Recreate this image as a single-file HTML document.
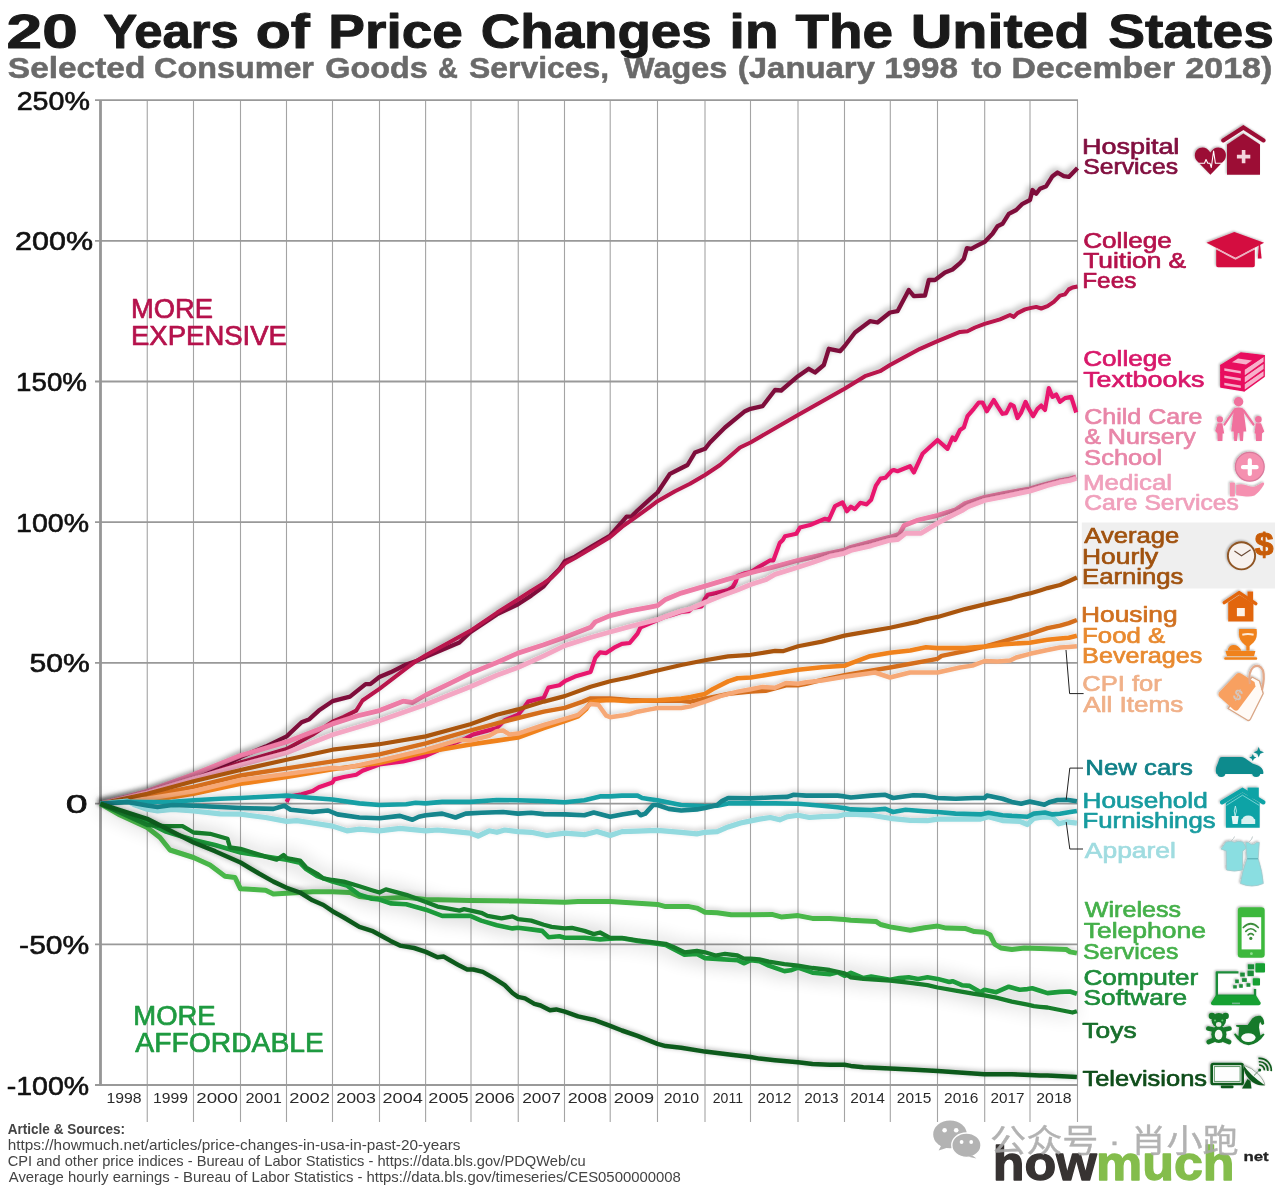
<!DOCTYPE html>
<html lang="en"><head><meta charset="utf-8"><title>20 Years of Price Changes in The United States</title>
<style>html,body{margin:0;padding:0;background:#fff;}body{width:1280px;height:1192px;overflow:hidden;}svg{display:block;}text{font-family:"Liberation Sans","Noto Sans CJK SC",sans-serif;}</style></head><body>
<svg width="1280" height="1192" viewBox="0 0 1280 1192">
<defs><filter id="sh" filterUnits="userSpaceOnUse" x="80" y="90" width="1010" height="1010"><feGaussianBlur in="SourceAlpha" stdDeviation="3.4"/><feOffset dx="-2" dy="-2.4"/><feComponentTransfer><feFuncA type="linear" slope="0.36"/></feComponentTransfer><feMerge><feMergeNode/><feMergeNode in="SourceGraphic"/></feMerge></filter><filter id="sh2" filterUnits="userSpaceOnUse" x="80" y="90" width="1010" height="1010"><feGaussianBlur in="SourceAlpha" stdDeviation="2.5"/><feOffset dx="-1.5" dy="-2"/><feComponentTransfer><feFuncA type="linear" slope="0.18"/></feComponentTransfer><feMerge><feMergeNode/><feMergeNode in="SourceGraphic"/></feMerge></filter><filter id="sh4" filterUnits="userSpaceOnUse" x="80" y="90" width="1010" height="1010"><feGaussianBlur in="SourceAlpha" stdDeviation="2.6"/><feOffset dx="-1" dy="-1.5"/><feComponentTransfer><feFuncA type="linear" slope="0.3"/></feComponentTransfer><feMerge><feMergeNode/><feMergeNode in="SourceGraphic"/></feMerge></filter><filter id="shm" filterUnits="userSpaceOnUse" x="80" y="90" width="1010" height="1010"><feGaussianBlur in="SourceAlpha" stdDeviation="2.4"/><feOffset dx="-1" dy="-2"/><feComponentTransfer><feFuncA type="linear" slope="0.3"/></feComponentTransfer><feMerge><feMergeNode/><feMergeNode in="SourceGraphic"/></feMerge></filter><filter id="sh3" filterUnits="userSpaceOnUse" x="80" y="90" width="1010" height="1010"><feGaussianBlur in="SourceAlpha" stdDeviation="10"/><feOffset dx="-1" dy="0"/><feComponentTransfer><feFuncA type="linear" slope="0.32"/></feComponentTransfer><feMerge><feMergeNode/><feMergeNode in="SourceGraphic"/></feMerge></filter><filter id="shi" x="-20%" y="-20%" width="140%" height="140%"><feGaussianBlur in="SourceAlpha" stdDeviation="1.2"/><feOffset dx="-0.8" dy="-1"/><feComponentTransfer><feFuncA type="linear" slope="0.3"/></feComponentTransfer><feMerge><feMergeNode/><feMergeNode in="SourceGraphic"/></feMerge></filter></defs>
<rect width="1280" height="1192" fill="#fff"/>
<text font-size="49" font-weight="bold" fill="#1a1a1a" stroke="#1a1a1a" stroke-width="1.0" stroke-linejoin="round"><tspan x="6.64" y="48.2" textLength="71.14" lengthAdjust="spacingAndGlyphs">20</tspan> <tspan x="103.21" y="48.2" textLength="135.67" lengthAdjust="spacingAndGlyphs">Years</tspan> <tspan x="255.66" y="48.2" textLength="54.13" lengthAdjust="spacingAndGlyphs">of</tspan> <tspan x="328.38" y="48.2" textLength="134.47" lengthAdjust="spacingAndGlyphs">Price</tspan> <tspan x="480.77" y="48.2" textLength="230.89" lengthAdjust="spacingAndGlyphs">Changes</tspan> <tspan x="729.64" y="48.2" textLength="48.84" lengthAdjust="spacingAndGlyphs">in</tspan> <tspan x="795.63" y="48.2" textLength="97.50" lengthAdjust="spacingAndGlyphs">The</tspan> <tspan x="910.73" y="48.2" textLength="179.06" lengthAdjust="spacingAndGlyphs">United</tspan> <tspan x="1108.25" y="48.2" textLength="165.59" lengthAdjust="spacingAndGlyphs">States</tspan></text>
<text font-size="28.6" font-weight="bold" fill="#6a6a6a" stroke="#6a6a6a" stroke-width="0.5" stroke-linejoin="round"><tspan x="7.83" y="78" textLength="137.57" lengthAdjust="spacingAndGlyphs">Selected</tspan> <tspan x="154.12" y="78" textLength="159.84" lengthAdjust="spacingAndGlyphs">Consumer</tspan> <tspan x="325.37" y="78" textLength="102.38" lengthAdjust="spacingAndGlyphs">Goods</tspan> <tspan x="438.04" y="78" textLength="19.84" lengthAdjust="spacingAndGlyphs">&amp;</tspan> <tspan x="469.14" y="78" textLength="139.91" lengthAdjust="spacingAndGlyphs">Services,</tspan> <tspan x="624.00" y="78" textLength="103.26" lengthAdjust="spacingAndGlyphs">Wages</tspan> <tspan x="737.85" y="78" textLength="137.13" lengthAdjust="spacingAndGlyphs">(January</tspan> <tspan x="884.18" y="78" textLength="73.79" lengthAdjust="spacingAndGlyphs">1998</tspan> <tspan x="971.50" y="78" textLength="30.63" lengthAdjust="spacingAndGlyphs">to</tspan> <tspan x="1011.64" y="78" textLength="163.45" lengthAdjust="spacingAndGlyphs">December</tspan> <tspan x="1185.31" y="78" textLength="87.05" lengthAdjust="spacingAndGlyphs">2018)</tspan></text>
<g stroke="#a4a4a4" stroke-width="1.1">
<line x1="147.25" y1="100" x2="147.25" y2="1122"/>
<line x1="193.50" y1="100" x2="193.50" y2="1122"/>
<line x1="240.50" y1="100" x2="240.50" y2="1122"/>
<line x1="286.50" y1="100" x2="286.50" y2="1122"/>
<line x1="332.50" y1="100" x2="332.50" y2="1122"/>
<line x1="379.50" y1="100" x2="379.50" y2="1122"/>
<line x1="425.60" y1="100" x2="425.60" y2="1122"/>
<line x1="471.00" y1="100" x2="471.00" y2="1122"/>
<line x1="518.25" y1="100" x2="518.25" y2="1122"/>
<line x1="564.50" y1="100" x2="564.50" y2="1122"/>
<line x1="610.20" y1="100" x2="610.20" y2="1122"/>
<line x1="657.50" y1="100" x2="657.50" y2="1122"/>
<line x1="705.00" y1="100" x2="705.00" y2="1122"/>
<line x1="750.50" y1="100" x2="750.50" y2="1122"/>
<line x1="798.00" y1="100" x2="798.00" y2="1122"/>
<line x1="844.50" y1="100" x2="844.50" y2="1122"/>
<line x1="890.30" y1="100" x2="890.30" y2="1122"/>
<line x1="937.50" y1="100" x2="937.50" y2="1122"/>
<line x1="984.70" y1="100" x2="984.70" y2="1122"/>
<line x1="1030.00" y1="100" x2="1030.00" y2="1122"/>
<line x1="1077.50" y1="100" x2="1077.50" y2="1122"/>
</g>
<g stroke="#999" stroke-width="1.8">
<line x1="95" y1="100.10" x2="1078" y2="100.10"/>
<line x1="95" y1="240.80" x2="1078" y2="240.80"/>
<line x1="95" y1="381.50" x2="1078" y2="381.50"/>
<line x1="95" y1="522.20" x2="1078" y2="522.20"/>
<line x1="95" y1="662.90" x2="1078" y2="662.90"/>
<line x1="95" y1="803.60" x2="1078" y2="803.60"/>
<line x1="95" y1="944.30" x2="1078" y2="944.30"/>
<line x1="95" y1="1085.00" x2="1078" y2="1085.00"/>
</g>
<line x1="100.5" y1="100" x2="100.5" y2="1086" stroke="#969696" stroke-width="2.8"/>
<text font-size="25.7" font-weight="normal" fill="#111" stroke="#111" stroke-width="0.6" stroke-linejoin="round"><tspan x="16.68" y="109.6" textLength="73.30" lengthAdjust="spacingAndGlyphs">250%</tspan></text>
<text font-size="25.7" font-weight="normal" fill="#111" stroke="#111" stroke-width="0.6" stroke-linejoin="round"><tspan x="15.11" y="250.3" textLength="77.92" lengthAdjust="spacingAndGlyphs">200%</tspan></text>
<text font-size="25.7" font-weight="normal" fill="#111" stroke="#111" stroke-width="0.6" stroke-linejoin="round"><tspan x="16.14" y="391.0" textLength="70.81" lengthAdjust="spacingAndGlyphs">150%</tspan></text>
<text font-size="25.7" font-weight="normal" fill="#111" stroke="#111" stroke-width="0.6" stroke-linejoin="round"><tspan x="16.08" y="531.7" textLength="72.90" lengthAdjust="spacingAndGlyphs">100%</tspan></text>
<text font-size="25.7" font-weight="normal" fill="#111" stroke="#111" stroke-width="0.6" stroke-linejoin="round"><tspan x="29.63" y="672.4" textLength="60.24" lengthAdjust="spacingAndGlyphs">50%</tspan></text>
<text font-size="25.7" font-weight="normal" fill="#111" stroke="#111" stroke-width="0.6" stroke-linejoin="round"><tspan x="65.77" y="813.1" textLength="21.92" lengthAdjust="spacingAndGlyphs">0</tspan></text>
<text font-size="25.7" font-weight="normal" fill="#111" stroke="#111" stroke-width="0.6" stroke-linejoin="round"><tspan x="19.13" y="953.8" textLength="70.20" lengthAdjust="spacingAndGlyphs">-50%</tspan></text>
<text font-size="25.7" font-weight="normal" fill="#111" stroke="#111" stroke-width="0.6" stroke-linejoin="round"><tspan x="6.69" y="1094.5" textLength="82.41" lengthAdjust="spacingAndGlyphs">-100%</tspan></text>
<text font-size="15" font-weight="normal" fill="#2a2a2a"><tspan x="106.48" y="1103.4" textLength="35.14" lengthAdjust="spacingAndGlyphs">1998</tspan></text>
<text font-size="15" font-weight="normal" fill="#2a2a2a"><tspan x="153.07" y="1103.4" textLength="34.94" lengthAdjust="spacingAndGlyphs">1999</tspan></text>
<text font-size="15" font-weight="normal" fill="#2a2a2a"><tspan x="196.25" y="1103.4" textLength="41.72" lengthAdjust="spacingAndGlyphs">2000</tspan></text>
<text font-size="15" font-weight="normal" fill="#2a2a2a"><tspan x="245.41" y="1103.4" textLength="36.50" lengthAdjust="spacingAndGlyphs">2001</tspan></text>
<text font-size="15" font-weight="normal" fill="#2a2a2a"><tspan x="289.28" y="1103.4" textLength="40.68" lengthAdjust="spacingAndGlyphs">2002</tspan></text>
<text font-size="15" font-weight="normal" fill="#2a2a2a"><tspan x="336.31" y="1103.4" textLength="39.63" lengthAdjust="spacingAndGlyphs">2003</tspan></text>
<text font-size="15" font-weight="normal" fill="#2a2a2a"><tspan x="382.54" y="1103.4" textLength="40.26" lengthAdjust="spacingAndGlyphs">2004</tspan></text>
<text font-size="15" font-weight="normal" fill="#2a2a2a"><tspan x="428.35" y="1103.4" textLength="40.15" lengthAdjust="spacingAndGlyphs">2005</tspan></text>
<text font-size="15" font-weight="normal" fill="#2a2a2a"><tspan x="474.56" y="1103.4" textLength="40.37" lengthAdjust="spacingAndGlyphs">2006</tspan></text>
<text font-size="15" font-weight="normal" fill="#2a2a2a"><tspan x="522.22" y="1103.4" textLength="38.59" lengthAdjust="spacingAndGlyphs">2007</tspan></text>
<text font-size="15" font-weight="normal" fill="#2a2a2a"><tspan x="567.66" y="1103.4" textLength="39.63" lengthAdjust="spacingAndGlyphs">2008</tspan></text>
<text font-size="15" font-weight="normal" fill="#2a2a2a"><tspan x="613.79" y="1103.4" textLength="40.36" lengthAdjust="spacingAndGlyphs">2009</tspan></text>
<text font-size="15" font-weight="normal" fill="#2a2a2a"><tspan x="663.69" y="1103.4" textLength="35.46" lengthAdjust="spacingAndGlyphs">2010</tspan></text>
<text font-size="15" font-weight="normal" fill="#2a2a2a"><tspan x="712.81" y="1103.4" textLength="30.18" lengthAdjust="spacingAndGlyphs">2011</tspan></text>
<text font-size="15" font-weight="normal" fill="#2a2a2a"><tspan x="757.48" y="1103.4" textLength="33.90" lengthAdjust="spacingAndGlyphs">2012</tspan></text>
<text font-size="15" font-weight="normal" fill="#2a2a2a"><tspan x="804.22" y="1103.4" textLength="34.42" lengthAdjust="spacingAndGlyphs">2013</tspan></text>
<text font-size="15" font-weight="normal" fill="#2a2a2a"><tspan x="850.37" y="1103.4" textLength="34.42" lengthAdjust="spacingAndGlyphs">2014</tspan></text>
<text font-size="15" font-weight="normal" fill="#2a2a2a"><tspan x="896.87" y="1103.4" textLength="34.42" lengthAdjust="spacingAndGlyphs">2015</tspan></text>
<text font-size="15" font-weight="normal" fill="#2a2a2a"><tspan x="944.07" y="1103.4" textLength="34.42" lengthAdjust="spacingAndGlyphs">2016</tspan></text>
<text font-size="15" font-weight="normal" fill="#2a2a2a"><tspan x="990.58" y="1103.4" textLength="33.90" lengthAdjust="spacingAndGlyphs">2017</tspan></text>
<text font-size="15" font-weight="normal" fill="#2a2a2a"><tspan x="1036.29" y="1103.4" textLength="35.25" lengthAdjust="spacingAndGlyphs">2018</tspan></text>
<text font-size="13.9" font-weight="bold" fill="#444"><tspan x="7.78" y="1133.7" textLength="117.38" lengthAdjust="spacingAndGlyphs">Article &amp; Sources:</tspan></text>
<text font-size="13.9" font-weight="normal" fill="#444"><tspan x="7.65" y="1149.7" textLength="452.86" lengthAdjust="spacingAndGlyphs">https://howmuch.net/articles/price-changes-in-usa-in-past-20-years</tspan></text>
<text font-size="13.9" font-weight="normal" fill="#444"><tspan x="7.70" y="1165.8" textLength="577.98" lengthAdjust="spacingAndGlyphs">CPI and other price indices - Bureau of Labor Statistics - https://data.bls.gov/PDQWeb/cu</tspan></text>
<text font-size="13.9" font-weight="normal" fill="#444"><tspan x="8.75" y="1182" textLength="672.09" lengthAdjust="spacingAndGlyphs">Average hourly earnings - Bureau of Labor Statistics - https://data.bls.gov/timeseries/CES0500000008</tspan></text>
<g fill="none" stroke-linejoin="round" stroke-linecap="butt" filter="url(#sh)">
<path d="M100.5,803.8 L147.2,792.5 L193.5,777.0 L217.5,768.8 L240.5,757.0 L250.0,753.1 L265.6,746.6 L286.6,736.4 L301.6,722.3 L309.4,719.2 L318.8,710.6 L332.5,701.2 L350.0,696.6 L365.6,684.1 L370.3,684.1 L379.4,677.0 L390.6,672.3 L406.2,664.5 L415.6,661.4 L425.8,656.7 L450.0,646.5 L459.4,642.5 L470.3,632.3 L496.9,614.4 L518.0,604.2 L531.2,595.6 L543.8,586.2 L551.6,576.9 L559.4,569.1 L564.8,561.2 L575.0,556.6 L590.6,547.2 L610.2,535.5 L621.9,522.2 L626.6,516.7 L631.2,516.7 L637.5,510.5 L650.0,499.2 L657.5,492.5 L670.0,473.8 L682.5,467.5 L687.5,465.0 L695.0,452.5 L705.0,448.8 L710.0,442.5 L725.0,427.5 L745.0,411.2 L750.5,408.8 L762.5,406.2 L775.0,390.0 L781.2,390.5 L798.0,376.2 L808.8,368.8 L815.0,372.5 L823.8,365.0 L828.8,348.8 L840.0,351.2 L844.5,346.2 L855.0,332.5 L870.0,321.2 L877.5,322.5 L890.0,312.5 L897.5,311.2 L908.8,290.0 L913.8,296.2 L925.0,295.5 L928.8,280.0 L935.0,280.0 L945.0,272.5 L952.5,269.5 L960.0,263.1 L963.8,258.8 L966.9,248.1 L971.2,248.8 L976.2,246.2 L984.6,241.9 L992.5,233.8 L997.5,226.2 L1002.5,223.8 L1008.8,213.8 L1016.2,210.0 L1022.5,203.8 L1030.0,200.0 L1032.5,190.0 L1036.2,193.8 L1040.0,188.8 L1046.2,186.2 L1052.5,176.2 L1057.5,172.5 L1063.8,176.2 L1068.8,176.9 L1077.5,168.1" stroke="#7E0F3B" stroke-width="4.3"/>
<path d="M100.5,803.8 L147.2,793.0 L193.5,779.2 L240.5,762.5 L250.0,759.7 L286.6,748.9 L312.5,734.8 L332.5,721.6 L343.8,716.9 L356.2,710.6 L362.5,700.5 L379.4,688.8 L406.2,668.4 L415.6,661.4 L425.8,655.2 L450.0,641.9 L470.3,630.8 L496.9,612.8 L518.0,599.5 L531.2,590.9 L543.8,583.1 L551.6,577.7 L559.4,569.8 L564.8,563.6 L575.0,558.1 L590.6,548.8 L610.2,537.0 L621.9,526.9 L637.5,515.9 L650.0,506.8 L657.5,501.2 L675.0,491.2 L690.0,483.8 L705.0,475.0 L720.0,465.0 L740.0,447.5 L750.5,442.5 L798.0,415.0 L844.5,388.8 L865.0,376.2 L880.0,371.2 L890.0,365.0 L920.0,348.8 L937.5,341.2 L960.0,331.9 L967.5,331.2 L975.0,327.5 L984.6,323.8 L1000.0,319.4 L1010.0,315.0 L1013.8,316.9 L1017.5,313.1 L1025.0,309.4 L1030.0,308.1 L1036.2,306.9 L1041.2,308.5 L1047.5,306.2 L1053.8,301.9 L1060.0,295.6 L1065.0,294.4 L1068.8,289.4 L1072.5,287.5 L1077.5,286.5" stroke="#B8124C" stroke-width="4.0"/>
</g>
<g fill="none" stroke-linejoin="round" stroke-linecap="butt" filter="url(#sh4)">
<path d="M286.6,802.0 L289.1,796.6 L301.6,794.2 L312.5,791.1 L318.8,787.2 L332.5,782.5 L334.4,779.4 L343.8,777.0 L356.2,774.7 L362.5,770.8 L379.4,764.5 L403.1,761.4 L425.8,755.9 L450.0,745.2 L465.6,738.3 L473.4,734.4 L496.9,728.1 L504.7,720.3 L518.0,714.8 L525.0,706.2 L528.1,701.6 L543.8,697.7 L548.4,687.5 L559.4,685.2 L564.8,681.2 L575.0,676.6 L590.6,671.9 L595.3,657.8 L600.0,652.3 L606.2,653.1 L614.1,647.7 L621.9,643.8 L629.7,643.0 L637.5,633.6 L640.6,627.3 L650.0,623.3 L665.6,616.6 L671.9,615.0 L681.2,611.9 L689.1,611.1 L692.2,608.0 L701.6,606.4 L705.0,598.6 L707.8,594.7 L715.6,593.1 L728.1,590.0 L732.8,586.9 L735.9,581.4 L737.5,575.9 L743.8,573.6 L750.8,572.0 L759.4,566.6 L770.3,560.3 L773.4,560.3 L779.7,543.1 L782.8,540.0 L785.0,536.2 L796.2,533.8 L800.0,527.5 L810.0,525.0 L825.0,518.8 L828.8,520.0 L835.0,506.2 L842.5,502.5 L847.0,511.2 L850.9,506.7 L854.8,509.1 L860.3,502.8 L866.6,504.4 L871.2,499.7 L875.9,485.6 L880.6,478.6 L885.3,477.8 L891.6,470.8 L893.8,470.0 L897.5,471.2 L910.0,466.2 L913.8,472.5 L922.5,453.8 L937.5,440.0 L947.5,448.8 L952.5,437.5 L955.0,440.0 L960.0,430.0 L963.8,427.5 L967.5,416.2 L973.8,408.8 L978.8,402.5 L982.5,402.5 L986.9,411.2 L993.8,400.0 L997.5,406.2 L1002.5,413.8 L1006.2,413.1 L1010.6,404.4 L1013.8,406.2 L1017.5,418.1 L1021.2,412.5 L1025.6,401.9 L1028.8,408.8 L1033.1,416.2 L1037.5,408.8 L1041.2,405.6 L1045.0,410.0 L1048.8,388.1 L1052.5,396.9 L1056.2,394.4 L1060.0,401.9 L1065.0,398.1 L1071.2,396.9 L1076.2,412.5" stroke="#E8176E" stroke-width="4.2"/>
</g>
<g fill="none" stroke-linejoin="round" stroke-linecap="butt" filter="url(#sh2)">
<path d="M100.5,803.8 L147.2,791.2 L193.5,774.5 L240.5,755.5 L250.0,752.7 L286.6,741.9 L332.5,723.9 L359.4,715.3 L379.4,710.6 L403.1,701.2 L412.5,702.5 L425.8,695.0 L450.0,683.3 L470.3,673.4 L496.9,662.5 L518.0,653.1 L543.8,644.8 L564.8,637.2 L590.6,627.3 L595.3,621.9 L610.2,615.6 L629.7,610.9 L650.0,607.1 L657.5,605.6 L665.6,599.4 L681.2,593.1 L705.0,586.1 L728.1,579.1 L737.5,576.7 L750.8,572.8 L775.0,566.6 L798.1,560.3 L821.9,554.8 L844.5,550.2 L850.9,547.3 L871.2,541.9 L890.0,537.2 L899.4,534.1 L904.1,525.5 L918.1,520.0 L937.7,515.3 L955.6,509.8 L965.0,503.6 L984.5,497.3 L1004.1,493.4 L1029.8,488.8 L1040.0,485.9 L1047.5,483.8 L1060.0,480.6 L1070.0,478.8 L1076.2,476.9" stroke="#EE7CA6" stroke-width="4.8"/>
</g>
<g fill="none" stroke-linejoin="round" stroke-linecap="butt" filter="url(#shm)">
<path d="M100.5,803.8 L147.2,793.0 L193.5,779.0 L240.5,765.0 L250.0,762.5 L286.6,752.8 L332.5,734.8 L379.4,720.8 L425.8,704.4 L450.0,694.8 L470.3,686.7 L496.9,675.3 L518.0,667.5 L543.8,655.9 L564.8,645.6 L590.6,637.5 L610.2,632.0 L629.7,626.6 L650.0,621.5 L657.5,619.7 L665.6,616.6 L681.2,611.1 L690.6,608.8 L705.0,602.5 L720.3,596.2 L737.5,590.0 L750.8,584.5 L765.6,579.8 L775.0,574.4 L798.1,567.3 L814.1,561.9 L829.7,556.4 L844.5,553.3 L850.9,550.5 L871.2,545.8 L890.0,540.3 L897.8,539.5 L905.6,533.3 L921.2,533.3 L927.5,529.4 L937.7,523.1 L949.4,516.9 L961.9,510.6 L968.1,506.7 L984.5,500.5 L1004.1,496.6 L1029.8,491.1 L1040.0,487.9 L1047.5,485.5 L1060.0,482.2 L1070.0,480.4 L1076.2,478.5" stroke="#F4A6C3" stroke-width="4.8"/>
</g>
<g fill="none" stroke-linejoin="round" stroke-linecap="butt" filter="url(#sh2)">
<path d="M100.5,803.8 L147.2,796.2 L193.5,786.8 L240.5,775.5 L250.0,774.0 L286.6,768.4 L332.5,761.4 L379.4,754.4 L425.8,743.4 L450.0,736.4 L470.3,730.5 L496.9,723.4 L518.0,718.0 L543.8,711.7 L564.8,707.8 L582.8,701.6 L590.6,698.4 L610.2,698.4 L629.7,700.0 L650.0,700.7 L657.5,700.9 L681.2,700.9 L690.6,701.7 L705.0,698.6 L728.1,693.9 L750.8,691.6 L765.6,690.8 L775.0,688.4 L785.9,685.3 L798.1,685.3 L806.2,683.8 L821.9,679.8 L844.5,675.2 L850.0,674.2 L890.0,667.5 L937.5,658.8 L941.6,655.9 L965.0,651.2 L984.5,646.6 L1004.1,641.1 L1029.8,634.1 L1040.0,630.6 L1047.5,628.1 L1060.0,625.6 L1068.8,623.1 L1076.9,620.0" stroke="#D46E1F" stroke-width="4.4"/>
<path d="M100.5,803.8 L147.2,800.0 L165.0,798.2 L193.5,793.8 L240.5,783.8 L250.0,782.4 L286.6,777.0 L332.5,769.2 L379.4,763.0 L425.8,752.0 L450.0,748.0 L470.3,744.5 L496.9,740.6 L518.0,737.5 L543.8,728.1 L564.8,721.1 L578.1,716.4 L585.9,709.4 L590.6,702.3 L598.4,700.8 L610.2,700.0 L629.7,701.2 L650.0,700.5 L657.5,700.2 L681.2,698.6 L690.6,697.0 L705.0,693.9 L712.5,689.2 L728.1,681.4 L737.5,678.3 L750.8,677.5 L775.0,673.6 L798.1,669.7 L821.9,667.3 L844.5,665.8 L850.0,663.7 L870.0,656.2 L871.2,655.9 L890.0,652.8 L910.3,650.5 L925.9,647.3 L937.7,648.1 L965.0,648.1 L984.5,646.6 L1004.1,644.2 L1029.8,642.7 L1040.0,641.0 L1047.5,639.8 L1060.0,638.5 L1068.8,637.8 L1076.9,635.8" stroke="#F0821F" stroke-width="4.6"/>
<path d="M100.5,803.8 L147.2,798.8 L193.5,791.2 L240.5,780.0 L250.0,778.7 L286.6,773.9 L332.5,767.7 L343.8,768.4 L379.4,760.6 L425.8,749.7 L450.0,742.6 L459.4,739.8 L470.3,740.6 L489.1,735.9 L496.9,731.2 L503.1,730.5 L509.4,734.4 L518.0,733.6 L543.8,725.0 L564.8,718.8 L578.1,714.8 L585.9,707.8 L590.6,703.9 L598.4,704.7 L606.2,715.6 L610.2,717.2 L621.9,715.6 L629.7,714.1 L637.5,711.7 L650.0,709.4 L657.5,708.0 L681.2,708.0 L690.6,706.4 L705.0,701.7 L720.3,696.2 L737.5,691.6 L750.8,689.2 L762.5,686.9 L775.0,687.7 L785.9,683.0 L798.1,683.8 L806.2,682.2 L821.9,680.6 L844.5,676.7 L850.0,676.0 L875.0,672.5 L890.0,677.5 L910.0,672.5 L937.5,672.5 L960.0,667.5 L972.5,665.6 L984.6,661.0 L997.5,661.5 L1010.0,660.6 L1016.2,657.5 L1030.0,653.8 L1047.5,650.0 L1060.0,647.5 L1068.8,646.9 L1076.9,646.2" stroke="#F6A876" stroke-width="4.5"/>
<path d="M100.5,803.8 L147.2,793.8 L193.5,781.2 L240.5,770.0 L250.0,767.9 L286.6,759.8 L332.5,749.7 L379.4,744.2 L425.8,736.4 L450.0,729.8 L470.3,724.2 L496.9,714.8 L518.0,709.4 L543.8,701.6 L564.8,696.1 L590.6,686.7 L610.2,681.2 L629.7,677.3 L650.0,672.3 L657.5,670.5 L681.2,665.0 L705.0,660.3 L728.1,656.4 L750.8,654.8 L775.0,650.9 L782.8,651.2 L798.1,646.2 L821.9,641.6 L844.5,635.6 L850.0,634.6 L857.2,633.4 L890.0,627.8 L918.1,621.6 L925.9,619.2 L937.7,616.9 L965.0,609.1 L984.5,604.4 L1011.9,598.1 L1019.7,595.8 L1029.8,593.4 L1040.0,590.4 L1047.5,588.1 L1060.0,585.0 L1068.8,581.2 L1076.9,577.5" stroke="#A9540F" stroke-width="4.2"/>
</g>
<g fill="none" stroke-linejoin="round" stroke-linecap="butt" filter="url(#sh2)">
<path d="M100.5,803.8 L127.5,801.2 L133.8,804.5 L147.2,809.2 L157.5,811.0 L172.5,809.5 L193.5,811.0 L220.0,813.8 L240.5,814.2 L250.0,815.5 L265.6,817.5 L286.6,821.4 L296.9,820.6 L312.5,823.0 L332.5,826.1 L346.9,830.8 L359.4,829.2 L379.4,830.8 L400.0,828.4 L425.8,830.8 L437.5,830.0 L450.0,831.2 L470.3,833.1 L478.1,836.2 L489.1,830.8 L496.9,832.3 L504.7,830.0 L518.0,831.6 L531.2,832.3 L546.9,835.5 L564.8,833.1 L584.4,834.7 L596.9,831.6 L610.2,835.5 L621.9,831.6 L637.5,831.2 L650.0,830.7 L657.5,830.3 L681.2,832.3 L696.9,833.9 L705.0,832.3 L717.2,831.6 L728.1,826.9 L740.6,823.0 L750.8,820.9 L759.4,819.1 L770.3,817.5 L779.7,819.8 L787.5,816.7 L798.1,815.2 L809.4,817.5 L821.9,816.7 L837.5,816.2 L844.5,814.4 L850.9,814.1 L871.2,815.2 L890.0,818.3 L910.3,820.3 L927.5,820.6 L937.7,819.1 L955.6,819.1 L980.6,819.1 L988.4,816.7 L1002.5,820.6 L1019.7,821.4 L1027.5,824.5 L1033.8,818.3 L1040.0,817.5 L1045.0,816.9 L1052.5,817.5 L1058.8,823.8 L1066.2,821.9 L1076.9,823.1" stroke="#93DADF" stroke-width="5.2"/>
<path d="M100.5,803.8 L127.5,801.8 L147.2,802.0 L172.5,801.8 L193.5,800.2 L220.0,798.8 L240.5,798.0 L250.0,797.5 L286.6,795.6 L312.5,798.0 L332.5,799.5 L359.4,803.4 L379.4,805.0 L406.2,804.2 L415.6,802.7 L425.8,803.4 L442.2,801.9 L450.0,801.9 L470.3,801.9 L496.9,800.0 L518.0,800.3 L543.8,801.1 L564.8,802.2 L584.4,800.3 L600.0,796.4 L610.2,796.4 L621.9,795.6 L637.5,795.6 L642.2,798.0 L650.0,799.2 L657.5,800.3 L681.2,805.0 L705.0,806.2 L717.2,805.8 L728.1,803.4 L750.8,803.4 L775.0,803.4 L798.1,803.8 L821.9,805.8 L837.5,807.3 L844.5,808.1 L850.9,809.4 L871.2,810.0 L885.3,808.9 L893.1,812.0 L905.6,809.7 L924.4,811.2 L937.7,812.0 L955.6,813.6 L980.6,814.4 L988.4,812.8 L1002.5,815.2 L1011.9,815.9 L1027.5,816.7 L1033.8,813.6 L1040.0,813.0 L1045.0,812.5 L1052.5,814.4 L1060.0,813.8 L1068.8,812.2 L1076.9,811.0" stroke="#18A0A5" stroke-width="4.6"/>
<path d="M100.5,803.8 L127.5,802.0 L147.2,805.5 L157.5,807.0 L172.5,805.0 L193.5,805.8 L240.5,808.0 L250.0,808.3 L273.4,808.9 L284.4,805.8 L290.6,809.7 L312.5,812.0 L328.1,810.5 L337.5,814.4 L359.4,817.5 L379.4,818.3 L400.0,815.9 L412.5,819.8 L418.8,816.7 L425.8,815.2 L442.2,813.6 L450.0,815.9 L455.5,817.5 L465.6,813.6 L481.2,812.8 L503.1,812.0 L518.0,813.6 L531.2,812.8 L543.8,814.1 L564.8,814.4 L584.4,815.2 L593.8,812.5 L610.2,816.7 L621.9,814.4 L637.5,812.0 L640.6,815.2 L645.3,813.6 L650.0,808.4 L653.1,805.0 L657.5,805.0 L668.8,808.9 L681.2,810.5 L696.9,809.4 L705.0,808.1 L717.2,805.0 L721.9,801.1 L728.1,798.0 L750.8,798.4 L775.0,797.2 L787.5,796.9 L793.8,794.8 L806.2,795.6 L821.9,795.6 L837.5,795.6 L844.5,796.4 L850.9,797.5 L871.2,795.6 L885.3,794.8 L893.1,798.0 L913.4,795.3 L924.4,795.6 L937.7,798.0 L955.6,798.8 L974.4,798.0 L984.5,798.0 L986.9,795.6 L1002.5,798.8 L1011.9,801.9 L1021.2,803.8 L1029.8,801.6 L1040.0,803.8 L1044.4,804.8 L1050.0,801.9 L1057.5,800.0 L1066.2,799.8 L1076.9,801.2" stroke="#13858C" stroke-width="4.6"/>
</g>
<g fill="none" stroke-linejoin="round" stroke-linecap="butt" filter="url(#sh2)">
<path d="M100.5,803.8 L120.0,815.0 L147.2,827.5 L160.0,837.5 L170.0,850.0 L193.5,857.5 L210.0,865.0 L225.0,876.2 L235.0,877.5 L240.5,888.8 L250.0,889.3 L265.6,890.2 L273.4,894.1 L286.6,893.3 L312.5,891.7 L332.5,891.7 L350.0,892.5 L359.4,896.4 L379.4,898.8 L406.2,897.2 L425.8,899.5 L450.0,900.1 L470.3,900.6 L518.0,901.1 L564.8,902.2 L578.1,901.6 L610.2,901.6 L650.0,903.9 L657.5,904.4 L665.6,906.6 L689.1,906.6 L696.9,908.1 L705.0,912.2 L717.2,912.8 L731.2,914.8 L750.8,914.8 L771.9,914.4 L781.2,916.9 L798.1,915.6 L812.5,918.4 L829.7,918.4 L844.5,919.5 L850.9,920.3 L875.9,921.4 L880.6,924.5 L890.0,926.9 L910.3,930.3 L924.4,927.7 L937.7,926.1 L946.2,928.1 L965.0,928.4 L974.4,931.6 L984.5,932.3 L990.0,934.7 L994.7,944.1 L1000.9,948.0 L1011.9,949.5 L1024.4,948.0 L1040.0,948.5 L1047.5,948.8 L1066.2,949.4 L1070.0,951.9 L1076.9,953.1" stroke="#49B749" stroke-width="5.0"/>
</g>
<g fill="none" stroke-linejoin="round" stroke-linecap="butt" filter="url(#sh3)">
<path d="M100.5,803.8 L147.2,822.5 L165.0,831.2 L193.5,840.0 L215.0,845.0 L240.5,852.5 L250.0,854.0 L286.6,859.7 L300.0,862.8 L306.2,869.1 L317.2,876.1 L332.5,881.6 L346.9,885.5 L359.4,894.8 L371.9,898.8 L379.4,899.5 L390.6,903.4 L406.2,904.2 L425.8,909.7 L442.2,915.9 L450.0,915.9 L470.3,915.9 L481.2,920.6 L496.9,925.3 L512.5,928.4 L518.0,927.8 L531.2,929.4 L542.2,930.9 L548.4,937.2 L559.4,936.2 L564.8,937.8 L584.4,937.8 L600.0,939.4 L610.2,938.6 L621.9,938.3 L637.5,940.9 L650.0,942.7 L665.6,945.0 L684.4,954.7 L696.9,953.9 L705.0,958.1 L720.3,959.1 L737.5,960.2 L743.8,963.3 L750.8,960.2 L759.4,961.2 L768.8,965.6 L784.4,971.1 L790.6,970.3 L798.1,967.5 L812.5,972.7 L829.7,974.2 L837.5,972.2 L844.5,975.8 L850.9,972.8 L863.4,978.1 L871.2,976.6 L890.0,979.7 L899.4,978.1 L908.8,977.3 L918.1,978.9 L927.5,977.3 L937.7,978.9 L949.4,982.0 L952.5,981.2 L961.9,985.2 L969.7,985.9 L980.6,992.2 L984.5,989.8 L996.2,992.2 L1008.8,986.7 L1019.7,989.8 L1027.5,989.1 L1032.2,988.3 L1040.0,990.8 L1047.5,993.1 L1060.0,991.9 L1070.0,991.5 L1076.9,993.8" stroke="#1F9A3A" stroke-width="4.6"/>
<path d="M100.5,803.8 L147.2,825.0 L165.0,826.2 L182.5,826.2 L193.5,832.5 L210.0,833.8 L227.5,838.8 L230.0,847.5 L240.5,848.8 L250.0,851.7 L265.6,856.6 L276.6,859.7 L283.6,855.0 L286.6,858.1 L300.0,860.5 L306.2,867.5 L317.2,873.8 L323.4,878.4 L332.5,880.0 L343.8,881.6 L359.4,886.2 L371.9,890.2 L379.4,892.5 L385.9,889.4 L406.2,894.8 L425.8,901.9 L437.5,906.6 L450.0,908.9 L459.4,910.6 L464.1,909.1 L481.2,912.8 L487.5,915.9 L501.6,918.4 L512.5,916.4 L518.0,919.1 L531.2,920.6 L543.8,924.7 L551.6,926.9 L564.8,928.4 L571.9,927.8 L584.4,930.9 L593.8,934.1 L600.0,932.5 L610.2,937.8 L621.9,937.8 L637.5,940.3 L650.0,941.8 L665.6,943.8 L673.4,946.9 L684.4,952.3 L696.9,950.8 L705.0,952.3 L715.6,955.5 L725.0,953.9 L737.5,955.5 L743.8,958.6 L750.8,958.6 L759.4,959.4 L768.8,961.7 L784.4,964.1 L798.1,965.6 L812.5,968.0 L829.7,970.0 L844.5,973.4 L850.9,977.3 L863.4,978.9 L890.0,980.5 L910.3,982.8 L927.5,985.2 L937.7,987.5 L955.6,990.6 L974.4,993.8 L984.5,995.3 L996.2,997.7 L1011.9,1001.6 L1027.5,1004.7 L1033.8,1006.2 L1040.0,1006.8 L1047.5,1007.5 L1060.0,1010.0 L1072.5,1012.5 L1076.9,1011.2" stroke="#167C2C" stroke-width="4.3"/>
</g>
<g fill="none" stroke-linejoin="round" stroke-linecap="butt" filter="url(#sh4)">
<path d="M100.5,803.8 L147.2,818.8 L193.5,842.5 L215.0,851.2 L240.5,862.5 L250.0,868.2 L259.4,873.8 L273.4,881.6 L286.6,887.8 L300.0,892.5 L312.5,900.3 L323.4,905.0 L332.5,911.2 L343.8,917.5 L359.4,926.9 L371.9,930.8 L379.4,934.7 L390.6,940.9 L400.0,945.6 L414.1,948.0 L425.8,951.9 L437.5,957.3 L443.8,956.6 L450.0,960.2 L459.4,965.6 L467.2,969.5 L473.4,969.5 L482.8,971.9 L493.8,978.1 L504.7,985.2 L512.5,993.0 L518.0,996.9 L525.0,998.4 L534.4,1003.9 L540.6,1005.5 L550.0,1010.2 L556.2,1009.4 L564.8,1011.7 L578.1,1016.4 L595.3,1020.3 L610.2,1025.8 L621.9,1030.5 L637.5,1035.9 L650.0,1040.8 L657.5,1043.8 L665.6,1046.1 L681.2,1047.7 L705.0,1051.6 L717.2,1053.1 L731.2,1054.7 L750.8,1057.0 L759.4,1058.6 L775.0,1060.2 L798.1,1062.2 L812.5,1064.1 L829.7,1064.8 L844.5,1064.8 L850.9,1065.9 L863.4,1067.2 L890.0,1068.4 L910.3,1069.5 L937.7,1071.1 L955.6,1072.2 L984.5,1074.2 L1011.9,1074.2 L1029.8,1075.0 L1040.0,1075.4 L1047.5,1075.6 L1076.9,1076.9" stroke="#0C5A1B" stroke-width="4.5"/>
</g>
<rect x="1081.8" y="522.5" width="193.2" height="66" fill="#efefef"/>
<text font-size="22.8" font-weight="normal" fill="#821040" stroke="#821040" stroke-width="0.7" stroke-linejoin="round"><tspan x="1081.99" y="153.5" textLength="97.39" lengthAdjust="spacingAndGlyphs">Hospital</tspan> <tspan x="1083.27" y="173.8" textLength="94.84" lengthAdjust="spacingAndGlyphs">Services</tspan></text>
<text font-size="22.8" font-weight="normal" fill="#B5124C" stroke="#B5124C" stroke-width="0.7" stroke-linejoin="round"><tspan x="1083.20" y="247.7" textLength="88.65" lengthAdjust="spacingAndGlyphs">College</tspan> <tspan x="1083.19" y="268" textLength="103.00" lengthAdjust="spacingAndGlyphs">Tuition &amp;</tspan> <tspan x="1082.21" y="288.3" textLength="54.17" lengthAdjust="spacingAndGlyphs">Fees</tspan></text>
<text font-size="22.8" font-weight="normal" fill="#D8186A" stroke="#D8186A" stroke-width="0.7" stroke-linejoin="round"><tspan x="1083.20" y="366.1" textLength="88.65" lengthAdjust="spacingAndGlyphs">College</tspan> <tspan x="1083.17" y="387.4" textLength="121.26" lengthAdjust="spacingAndGlyphs">Textbooks</tspan></text>
<text font-size="22.8" font-weight="normal" fill="#E886A8" stroke="#E886A8" stroke-width="0.7" stroke-linejoin="round"><tspan x="1084.15" y="424.3" textLength="118.27" lengthAdjust="spacingAndGlyphs">Child Care</tspan> <tspan x="1084.15" y="443.7" textLength="111.58" lengthAdjust="spacingAndGlyphs">&amp; Nursery</tspan> <tspan x="1084.13" y="464.9" textLength="78.04" lengthAdjust="spacingAndGlyphs">School</tspan></text>
<text font-size="22.8" font-weight="normal" fill="#F0A0BC" stroke="#F0A0BC" stroke-width="0.7" stroke-linejoin="round"><tspan x="1082.98" y="489.8" textLength="89.14" lengthAdjust="spacingAndGlyphs">Medical</tspan> <tspan x="1084.17" y="510.1" textLength="154.75" lengthAdjust="spacingAndGlyphs">Care Services</tspan></text>
<text font-size="22.8" font-weight="normal" fill="#A0520F" stroke="#A0520F" stroke-width="0.7" stroke-linejoin="round"><tspan x="1084.35" y="543.2" textLength="94.99" lengthAdjust="spacingAndGlyphs">Average</tspan> <tspan x="1082.04" y="563.5" textLength="76.17" lengthAdjust="spacingAndGlyphs">Hourly</tspan> <tspan x="1082.10" y="583.8" textLength="101.36" lengthAdjust="spacingAndGlyphs">Earnings</tspan></text>
<text font-size="22.8" font-weight="normal" fill="#D07020" stroke="#D07020" stroke-width="0.7" stroke-linejoin="round"><tspan x="1081.04" y="621.7" textLength="96.50" lengthAdjust="spacingAndGlyphs">Housing</tspan></text>
<text font-size="22.8" font-weight="normal" fill="#E88A30" stroke="#E88A30" stroke-width="0.7" stroke-linejoin="round"><tspan x="1082.09" y="643.3" textLength="83.13" lengthAdjust="spacingAndGlyphs">Food &amp;</tspan> <tspan x="1082.14" y="663.2" textLength="120.31" lengthAdjust="spacingAndGlyphs">Beverages</tspan></text>
<text font-size="22.8" font-weight="normal" fill="#F0B088" stroke="#F0B088" stroke-width="0.7" stroke-linejoin="round"><tspan x="1082.23" y="690.9" textLength="79.49" lengthAdjust="spacingAndGlyphs">CPI for</tspan> <tspan x="1083.35" y="712.1" textLength="100.07" lengthAdjust="spacingAndGlyphs">All Items</tspan></text>
<text font-size="22.8" font-weight="normal" fill="#118088" stroke="#118088" stroke-width="0.7" stroke-linejoin="round"><tspan x="1085.39" y="774.7" textLength="107.41" lengthAdjust="spacingAndGlyphs">New cars</tspan></text>
<text font-size="22.8" font-weight="normal" fill="#189CA0" stroke="#189CA0" stroke-width="0.7" stroke-linejoin="round"><tspan x="1082.55" y="807.9" textLength="125.19" lengthAdjust="spacingAndGlyphs">Household</tspan> <tspan x="1082.59" y="827.8" textLength="133.01" lengthAdjust="spacingAndGlyphs">Furnishings</tspan></text>
<text font-size="22.8" font-weight="normal" fill="#A0DCE0" stroke="#A0DCE0" stroke-width="0.7" stroke-linejoin="round"><tspan x="1084.85" y="858.3" textLength="91.03" lengthAdjust="spacingAndGlyphs">Apparel</tspan></text>
<text font-size="22.8" font-weight="normal" fill="#45B04A" stroke="#45B04A" stroke-width="0.7" stroke-linejoin="round"><tspan x="1084.85" y="917.3" textLength="96.15" lengthAdjust="spacingAndGlyphs">Wireless</tspan> <tspan x="1083.69" y="937.6" textLength="122.28" lengthAdjust="spacingAndGlyphs">Telephone</tspan> <tspan x="1082.96" y="958.6" textLength="95.45" lengthAdjust="spacingAndGlyphs">Services</tspan></text>
<text font-size="22.8" font-weight="normal" fill="#1E8C3A" stroke="#1E8C3A" stroke-width="0.7" stroke-linejoin="round"><tspan x="1083.50" y="984.8" textLength="114.65" lengthAdjust="spacingAndGlyphs">Computer</tspan> <tspan x="1083.50" y="1004.5" textLength="103.67" lengthAdjust="spacingAndGlyphs">Software</tspan></text>
<text font-size="22.8" font-weight="normal" fill="#186F2C" stroke="#186F2C" stroke-width="0.7" stroke-linejoin="round"><tspan x="1082.39" y="1037.6" textLength="54.27" lengthAdjust="spacingAndGlyphs">Toys</tspan></text>
<text font-size="22.8" font-weight="normal" fill="#0F4D1A" stroke="#0F4D1A" stroke-width="0.7" stroke-linejoin="round"><tspan x="1082.43" y="1085.8" textLength="124.69" lengthAdjust="spacingAndGlyphs">Televisions</tspan></text>
<text font-size="27" font-weight="normal" fill="#B5124C" stroke="#B5124C" stroke-width="0.7" stroke-linejoin="round"><tspan x="131.03" y="317.8" textLength="81.93" lengthAdjust="spacingAndGlyphs">MORE</tspan> <tspan x="131.01" y="345.4" textLength="155.92" lengthAdjust="spacingAndGlyphs">EXPENSIVE</tspan></text>
<text font-size="27" font-weight="normal" fill="#1E9A40" stroke="#1E9A40" stroke-width="0.7" stroke-linejoin="round"><tspan x="133.32" y="1024.6" textLength="82.35" lengthAdjust="spacingAndGlyphs">MORE</tspan> <tspan x="135.35" y="1051.5" textLength="188.50" lengthAdjust="spacingAndGlyphs">AFFORDABLE</tspan></text>
<g fill="none" stroke="#222" stroke-width="1">
<path d="M1066,650 L1069.6,693.6 L1083.6,693.6"/>
<path d="M1066.2,799.7 L1069.8,768.1 L1083,768.1"/>
<path d="M1066.2,822 L1069.8,849 L1083,849"/>
</g>
<text font-size="49" font-weight="bold" fill="#373332" stroke="#373332" stroke-width="1.3" stroke-linejoin="round"><tspan x="992.67" y="1179.9" textLength="103.97" lengthAdjust="spacingAndGlyphs" fill="#373332" stroke="#373332">how</tspan><tspan x="1095.97" y="1179.9" textLength="138.63" lengthAdjust="spacingAndGlyphs" fill="#84BD4C" stroke="#84BD4C">much</tspan></text>
<text font-size="13.5" font-weight="bold" fill="#222" stroke="#222" stroke-width="0.3" stroke-linejoin="round"><tspan x="1243.40" y="1161.2" textLength="25.26" lengthAdjust="spacingAndGlyphs">net</tspan></text>
<g opacity="0.88">
<g fill="#a9a9a9"><ellipse cx="950" cy="1134.4" rx="16.8" ry="13.9"/><path d="M941.5,1145 L938.6,1150.6 L948,1147.6 Z"/><ellipse cx="966.4" cy="1145.2" rx="14.6" ry="12.2" stroke="#fff" stroke-width="1.4"/><path d="M972.5,1155.5 L976.4,1158.6 L968.5,1156.8 Z"/></g>
<g fill="#fff"><circle cx="944.6" cy="1130.3" r="2.3"/><circle cx="956.2" cy="1130.3" r="2.3"/><circle cx="961.6" cy="1142" r="1.9"/><circle cx="971.2" cy="1142" r="1.9"/></g>
<text font-size="32" font-weight="normal" fill="#a8a8a8" stroke="#a8a8a8" stroke-width="0.4" stroke-linejoin="round"><tspan x="990.14" y="1152" textLength="248.59" lengthAdjust="spacingAndGlyphs">公众号 · 肖小跑</tspan></text>
</g>
<g id="icons">
<g fill="#9C0C34" filter="url(#shi)">
<path d="M1210.4,174.8 L1196.6,160.5 C1193.5,156.5 1194.5,150 1199.5,148 C1203.5,146.4 1208,148 1210.4,152.5 C1212.8,148 1217.3,146.4 1221.3,148 C1226.3,150 1227.3,156.5 1224.2,160.5 Z"/>
<path d="M1227,174.8 L1227,144.6 L1243.4,133.6 L1260,144.6 L1260,174.8 Z"/>
<path d="M1223.2,140.4 L1243.4,127.4 L1263.6,140.4" fill="none" stroke="#9C0C34" stroke-width="4.2" stroke-linecap="round" stroke-linejoin="miter"/>
</g>
<path d="M1198.5,163.3 L1204.5,163.3 L1206,159.5 L1207.8,163.3 L1210,163.3 L1211.3,167.5 L1213.6,151 L1215.4,163.3 L1222.5,163.3" fill="none" stroke="#fff" stroke-width="1.1" stroke-linejoin="round"/>
<path d="M1236.9,156.6 H1250.3 M1243.6,149.9 V163.3" stroke="#f3d5dc" stroke-width="3.6" fill="none"/>
<g fill="#D40A40" filter="url(#shi)">
<path d="M1206.5,242.8 L1234.4,232 L1264.1,242.8 L1235.5,257.8 Z"/>
<path d="M1216.2,249.6 L1235.5,259.8 L1254.8,249.6 L1254.8,265.5 Q1254.8,267.2 1253,267.2 L1218,267.2 Q1216.2,267.2 1216.2,265.5 Z"/>
<path d="M1258.9,244.5 L1260.1,244.5 L1261.6,258.6 L1257.8,258.6 Z"/>
</g>
<path d="M1216.2,248.3 L1235.5,258.6 L1254.8,248.3" fill="none" stroke="#f4a8bb" stroke-width="1.1"/>
<g filter="url(#shi)" stroke="#E8105E" stroke-width="1.3" stroke-linejoin="round">
<path d="M1220.8,379.8 L1244.1,383.7 L1244.1,390.9 L1220.8,387.0 Z" fill="#E8105E"/>
<path d="M1244.1,383.7 L1264.2,370.0 L1264.2,376.4 L1244.1,390.9 Z" fill="#F7B0CB"/>
<path d="M1224.3,382.7 L1240.8,385.5 L1240.8,388.0 L1224.3,385.2 Z" fill="#F7B0CB" stroke="none"/>
<path d="M1220.8,372.6 L1244.1,376.5 L1244.1,383.7 L1220.8,379.8 Z" fill="#E8105E"/>
<path d="M1244.1,376.5 L1264.2,362.8 L1264.2,369.2 L1244.1,383.7 Z" fill="#F7B0CB"/>
<path d="M1224.3,375.5 L1240.8,378.3 L1240.8,380.8 L1224.3,378.0 Z" fill="#F7B0CB" stroke="none"/>
<path d="M1220.8,365.4 L1244.1,369.3 L1244.1,376.5 L1220.8,372.6 Z" fill="#E8105E"/>
<path d="M1244.1,369.3 L1264.2,355.6 L1264.2,362.0 L1244.1,376.5 Z" fill="#F7B0CB"/>
<path d="M1224.3,368.3 L1240.8,371.1 L1240.8,373.6 L1224.3,370.8 Z" fill="#F7B0CB" stroke="none"/>
<path d="M1220.8,365.4 L1240.8,353 L1264.2,355.6 L1244.1,369.3 Z" fill="#E8105E"/>
<path d="M1232,362.3 L1238,358.6 L1252,360.4 L1246,364.4 Z" fill="#F7B0CB" stroke="none"/>
</g>
<g fill="#F0719D" stroke="#F0719D" filter="url(#shi)">
<circle cx="1238.6" cy="401.8" r="4.7" stroke="none"/>
<path d="M1234,408.5 Q1238.6,406.5 1243.2,408.5 L1245,421 L1246.3,431.5 L1243.5,431.5 L1243,441 L1240.2,441 L1239.3,433 L1237.9,433 L1237,441 L1234.2,441 L1233.7,431.5 L1231.2,431.5 L1232.5,421 Z" stroke="none"/>
<path d="M1234,410.5 L1224.5,424.5" stroke-width="2.2" stroke-linecap="round" fill="none"/>
<path d="M1243.6,410.5 L1253.5,424.5" stroke-width="2.2" stroke-linecap="round" fill="none"/>
<circle cx="1219.9" cy="419.4" r="3.1" stroke="none"/>
<path d="M1217.6,423.2 L1222.3,423.2 L1224.2,433.5 L1222.6,433.5 L1222.4,441 L1217.6,441 L1217.4,433.5 L1215.2,431 Z" stroke="none"/>
<circle cx="1258.4" cy="419.4" r="3.3" stroke="none"/>
<path d="M1255.8,423.2 L1261,423.2 L1264.3,431.5 L1262,433.5 L1261.8,441 L1256,441 L1255.7,433.5 L1254.5,433.5 Z" stroke="none"/>
</g>
<g fill="#F590B0" filter="url(#shi)">
<circle cx="1249.8" cy="466.8" r="14.4" stroke="#D9799B" stroke-width="1.2"/>
<rect x="1229.9" y="482.5" width="5" height="14" rx="0.8"/>
<path d="M1236.2,485 Q1242,483 1248,485.8 Q1252,487.5 1255,486.5 Q1259,484.5 1262.5,482.5 Q1264.8,482 1264,484.5 Q1260,491.5 1254.5,495.5 Q1250,497.2 1244,496.2 L1236.2,495.2 Z"/>
</g>
<path d="M1243,467.2 H1256.6 M1249.8,460.4 V474" stroke="#fff" stroke-width="4.2" stroke-linecap="round" fill="none"/>
<g filter="url(#shi)"><circle cx="1241.5" cy="555.8" r="13.6" fill="#f7f1ee" stroke="#8F5424" stroke-width="1.9"/></g>
<path d="M1234.8,551.2 L1241.5,555.8 L1250.3,550" fill="none" stroke="#6b4a36" stroke-width="1.1" stroke-linecap="round"/>
<text font-size="31.7" font-weight="bold" fill="#C85C08" stroke="#C85C08" stroke-width="1.0" stroke-linejoin="round"><tspan x="1254.84" y="554.6" textLength="18.73" lengthAdjust="spacingAndGlyphs">$</tspan></text>
<g fill="#E2660F" filter="url(#shi)">
<rect x="1247.5" y="591.5" width="5.6" height="9"/>
<path d="M1228.2,621.6 L1228.2,602.5 L1239.5,595 L1253.4,603.5 L1253.4,621.6 Z"/>
<path d="M1224.2,602.6 L1239.2,592.6 L1255.8,603.6" fill="none" stroke="#E2660F" stroke-width="3.4" stroke-linecap="round" stroke-linejoin="round"/>
</g>
<rect x="1236.9" y="608" width="7.9" height="8.2" fill="#fdf3ea"/>
<g fill="#F0821C" filter="url(#shi)">
<path d="M1239.2,629 L1256.6,629 Q1258,638 1253.5,642.5 Q1250.5,645.2 1249.6,646 L1249.6,650.7 L1246.3,650.7 L1246.3,646 Q1245,645.2 1242.3,642.5 Q1237.8,638 1239.2,629 Z"/>
<path d="M1227.6,650.7 Q1228.5,645.6 1233,645 Q1238.5,644.6 1241.5,650.7 Z"/>
<path d="M1225.5,651 L1255.4,651 L1254,656.2 L1227,656.2 Z"/>
<rect x="1224.2" y="657.3" width="33" height="2.5" rx="1"/>
</g>
<path d="M1242.3,634.8 Q1248,633.4 1253.6,634.8" fill="none" stroke="#fde9d6" stroke-width="2"/>
<g filter="url(#shi)">
<path d="M1228,708.5 L1247.5,720.3 Q1249.5,721 1250.5,719 L1263.2,693.5 L1259.5,681 L1252,677 Z" fill="#fffaf6" stroke="#D9A686" stroke-width="1.3" stroke-linejoin="round"/>
<path d="M1219,692.5 L1236.5,674 Q1238.5,672.5 1241,673.5 L1254.5,682 L1255.5,686.5 L1238,710 Q1236,711.6 1234,710 L1219.5,697 Q1217.8,694.5 1219,692.5 Z" fill="#F8A061"/>
<path d="M1250,684 Q1247.5,672 1253.5,667 Q1259.5,663.5 1263,670.5 Q1265,677.5 1262,690" fill="none" stroke="#E3A98A" stroke-width="2.2"/>
</g>
<text x="1233.6" y="700.2" font-size="15.5" font-weight="bold" fill="#d4c6bd" text-anchor="start" textLength="8.6" lengthAdjust="spacingAndGlyphs" transform="rotate(22 1237.5 695)">$</text>
<g fill="#0E8B8D" filter="url(#shi)">
<path d="M1216,772.5 Q1215.2,768 1217.5,764 L1219.6,758.2 Q1220.3,757 1222,757 L1241,757 Q1243,757 1245,758.2 L1252.5,763.6 L1258,765.6 Q1262.8,767.6 1263.4,772.2 L1263.2,774 L1216.5,774 Z"/>
<circle cx="1221.3" cy="773" r="4.1"/><circle cx="1256.2" cy="773" r="4.1"/>
<path d="M1258.7,747 L1260.2,750.8 L1264,752.3 L1260.2,753.8 L1258.7,757.6 L1257.2,753.8 L1253.4,752.3 L1257.2,750.8 Z"/>
<path d="M1252.8,754 L1253.9,756.5 L1256.4,757.6 L1253.9,758.7 L1252.8,761.2 L1251.7,758.7 L1249.2,757.6 L1251.7,756.5 Z"/>
</g>
<g fill="#0FA3A6" filter="url(#shi)">
<rect x="1247.6" y="787.6" width="11.2" height="11"/>
<path d="M1225.9,827.7 L1225.9,803 L1242.5,792.4 L1259.7,803 L1259.7,827.7 Z"/>
<path d="M1222,802.4 L1242.5,789.9 L1263.4,802.4" fill="none" stroke="#0FA3A6" stroke-width="4.2" stroke-linecap="round" stroke-linejoin="miter"/>
</g>
<path d="M1226.4,805.4 L1242.5,795.2 L1259.2,805.4" fill="none" stroke="#8fdcde" stroke-width="0.8"/>
<path d="M1231.6,816 L1238.6,816 L1237.6,824 L1232.6,824 Z" fill="#e6f6f6"/>
<path d="M1235.1,816 Q1233.2,811 1235.4,806 Q1237.6,811 1235.1,816" fill="none" stroke="#bfeaea" stroke-width="0.9"/>
<path d="M1241.3,824 L1241.3,819.5 Q1243,818.8 1243.5,817 Q1248.3,814.2 1253,817 Q1253.5,818.8 1255.2,819.5 L1255.2,824 Z" fill="#d9f1f1"/>
<g fill="#8ADEE1" stroke="#9fc6c9" stroke-width="0.8" filter="url(#shi)">
<path d="M1226,842 L1231,841.2 Q1234.5,843.5 1238,841.2 L1243,842 L1246.5,848 L1242.8,851 L1242.4,870 Q1234.5,872.2 1226.6,870 L1226.2,851 L1221,849 Z"/>
<path d="M1248.5,842.5 Q1252.5,846.5 1256.5,842.5 L1259.3,842.5 L1258.2,858.5 Q1262.5,872 1263.3,883.5 Q1252,888.5 1240.5,883.5 Q1242,872 1247,858.5 L1245.7,842.5 Z"/>
</g>
<path d="M1247.2,858.8 L1258,858.8" stroke="#4fa3a8" stroke-width="0.9"/>
<path d="M1231,841 Q1234.5,838 1234.5,836.5 M1249,842 Q1252.5,839 1252.5,836.5" stroke="#b9c4c5" stroke-width="0.9" fill="none"/>
<g filter="url(#shi)"><rect x="1237.8" y="907.3" width="26.9" height="50.4" rx="3.2" fill="#3EB83E"/></g>
<rect x="1241.6" y="917.2" width="19.6" height="32.2" fill="#fdfdfd"/>
<g fill="none" stroke="#3C8C3C" stroke-width="1.7" stroke-linecap="round"><path d="M1243.3,927.5 Q1250.8,920 1258.3,927.5"/><path d="M1245.8,931.3 Q1250.8,926.2 1255.8,931.3"/><path d="M1248.2,934.8 Q1250.8,932.4 1253.4,934.8"/></g>
<circle cx="1250.8" cy="938.4" r="1.6" fill="#3C8C3C"/><circle cx="1251.4" cy="953.7" r="1.4" fill="#8fe08f"/>
<g filter="url(#shi)">
<path d="M1238.5,972.4 L1216.8,972.4 L1216.8,995.8 L1255,995.8 L1255,989" fill="none" stroke="#1E8C3A" stroke-width="2.4" stroke-linejoin="round"/>
<path d="M1215.6,995.6 L1256.1,995.6 L1260.7,1002.8 Q1260.9,1005.2 1258.5,1005.2 L1213.2,1005.2 Q1210.7,1005.2 1211,1002.8 Z" fill="#15A031"/>
<g fill="#15A031"><rect x="1255.4" y="963.3" width="9.6" height="9.3" rx="0.8"/><rect x="1252.8" y="978.2" width="7.2" height="7.3" rx="0.8"/></g>
<g fill="#1E8C3A"><rect x="1247.8" y="964.3" width="6.3" height="5"/><rect x="1247.5" y="970.6" width="6.3" height="5.6"/><rect x="1240.2" y="972.6" width="4.6" height="4"/><rect x="1242.1" y="978.2" width="4.7" height="3.7"/><rect x="1235.2" y="979.5" width="3.6" height="3.7"/><rect x="1233.2" y="985.2" width="3.6" height="3.3"/><rect x="1239.2" y="984.2" width="3.6" height="3.6"/><rect x="1246.5" y="983.2" width="3.9" height="3.6"/></g>
</g>
<rect x="1232" y="1002.6" width="8" height="1.6" fill="#6fb38a"/>
<g fill="#187A2A" filter="url(#shi)">
<circle cx="1212" cy="1016" r="3.3"/><circle cx="1225.6" cy="1016" r="3.3"/><circle cx="1218.8" cy="1020.3" r="7.2"/>
<ellipse cx="1218.9" cy="1034.3" rx="7.6" ry="8.8"/>
<path d="M1213,1029.5 L1208.3,1028.6 M1224.8,1029.5 L1229.5,1028.6 M1213.5,1040 L1208.6,1042 M1224.3,1040 L1229.2,1042" stroke="#187A2A" stroke-width="4.6" stroke-linecap="round"/>
<path d="M1236.2,1025 L1247.6,1025 Q1250.6,1021 1252.2,1018.6 Q1255.4,1015 1260.6,1015.8 Q1264.4,1018.6 1264.2,1023.8 Q1262.8,1025.6 1261.6,1024.4 L1260.2,1021.8 Q1258.8,1024.4 1259,1027.4 L1260.4,1035.6 L1263.4,1033.4 L1264.6,1034.6 Q1258,1044.6 1248.6,1045.2 Q1240,1044.6 1234,1034.4 L1235.2,1033.2 L1238.4,1036.2 L1239.2,1027.2 L1236.2,1026.6 Z"/>
</g>
<ellipse cx="1248.4" cy="1037.6" rx="7.2" ry="4.4" fill="#fafcf9"/>
<ellipse cx="1218.6" cy="1034.8" rx="3.8" ry="5" fill="#f4f7f1"/><ellipse cx="1218.7" cy="1024.4" rx="2.7" ry="2.4" fill="#e4ede1"/>
<circle cx="1215" cy="1020.4" r="1" fill="#5fce6d"/><circle cx="1222.3" cy="1020.4" r="1" fill="#5fce6d"/>
<g filter="url(#shi)">
<rect x="1211.7" y="1064" width="31" height="20" rx="1.6" fill="#fdfdfd" stroke="#0D5A1A" stroke-width="2.6"/>
<rect x="1214.3" y="1066.6" width="25.8" height="14.8" fill="none" stroke="#4c8a56" stroke-width="0.9"/>
<rect x="1220.9" y="1085.6" width="12.6" height="2.6" rx="1" fill="#0D5A1A"/>
<path d="M1243.5,1065.2 Q1252,1067.5 1258.5,1074.5 Q1264.6,1081 1264.8,1085.2 Q1256,1085.8 1249.5,1079.2 Q1243.8,1072.5 1243.5,1065.2 Z" fill="#f6f8f5" stroke="#8a9a8c" stroke-width="0.8"/>
<path d="M1243.5,1065.2 Q1250.5,1075.5 1264.8,1085.2 Q1256,1086.3 1249.5,1079.6 Q1243.6,1073 1243.5,1065.2 Z" fill="#0D5A1A"/>
<path d="M1247.5,1079 L1242,1088.4 L1251.5,1088.4 L1250.5,1081 Z" fill="#0D5A1A"/>
<path d="M1254,1075.5 L1259.7,1069.9" stroke="#567a5b" stroke-width="0.9"/>
<circle cx="1259.7" cy="1069.9" r="1.5" fill="#0D5A1A"/>
<g fill="none" stroke="#0D5A1A" stroke-width="1.7"><path d="M1259.2,1065.2 A4.8,4.8 0 0 1 1264.4,1070.4"/><path d="M1258.8,1061.8 A8.2,8.2 0 0 1 1267.8,1070.8"/><path d="M1258.4,1058.4 A11.6,11.6 0 0 1 1271.2,1071.2"/></g>
</g>
</g>
</svg></body></html>
